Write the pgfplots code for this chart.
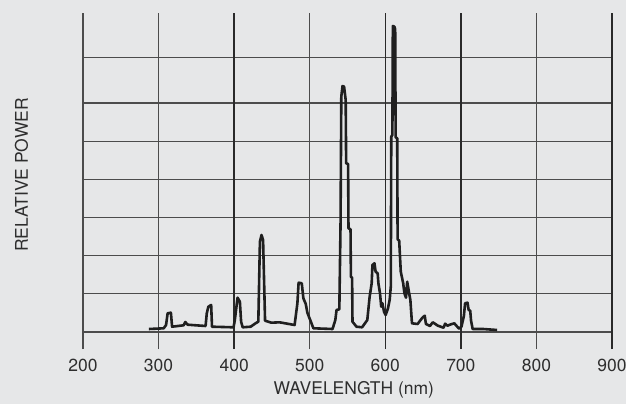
\documentclass[border=0pt]{standalone}
\usepackage{pgfplots}
\pgfplotsset{compat=1.18}
\usepackage{fontspec}
\setmainfont{TeX Gyre Heros}
\definecolor{bgc}{HTML}{E6E7E8}
\definecolor{gridc}{HTML}{4C4C4C}
\definecolor{gridd}{HTML}{2A2A2A}
\definecolor{txt}{HTML}{2E2E2E}

% spectrum: wavelength (nm), relative power
\pgfplotstableread{
nm     p
287.2  3.0
306.8  3.7
309.9  7.0
312.0  18.7
316.3  19.3
317.9  5.3
333.2  6.7
335.3  10.0
338.4  7.3
362.2  6.0
363.8  18.7
365.9  25.3
369.6  27.0
370.7  5.3
399.2  4.7
400.8  11.3
404.5  34.3
407.6  30.3
409.2  10.3
411.3  4.7
421.9  5.3
428.3  8.7
432.0  10.3
434.1  90.3
436.2  97.0
438.3  92.0
440.9  11.3
449.4  9.3
460.0  9.7
480.0  7.0
483.7  28.7
485.3  49.3
489.5  48.7
491.6  33.7
494.8  28.0
496.9  19.3
504.9  3.7
530.2  3.0
533.9  12.0
535.5  22.0
539.2  22.7
540.8  108.7
541.8  235.3
543.4  246.0
545.5  245.3
547.6  232.0
548.2  168.7
550.8  168.0
551.3  103.7
554.0  102.7
554.5  55.3
556.1  54.3
556.6  10.3
561.9  5.3
569.3  4.7
576.2  12.0
579.3  35.3
582.0  48.7
583.0  67.0
585.7  68.7
587.2  60.3
589.9  58.7
590.9  48.7
593.0  38.7
594.6  25.3
596.2  28.7
598.3  20.3
600.5  17.0
603.6  23.7
605.8  32.0
607.3  45.3
607.9  195.3
609.4  197.0
610.0  306.0
612.1  305.3
613.1  302.7
613.7  194.7
615.8  193.7
616.3  92.7
618.4  91.3
620.5  60.3
623.7  48.7
625.3  38.7
627.4  34.3
629.0  50.3
631.6  38.7
633.2  32.0
635.3  8.7
642.7  8.0
649.1  14.3
652.2  16.3
653.8  8.0
659.1  6.0
662.8  9.7
669.6  6.3
677.1  4.3
679.2  8.3
682.3  6.3
685.5  7.3
691.3  8.7
697.6  3.3
700.8  5.3
704.0  16.0
705.6  28.7
708.8  29.3
710.3  22.0
712.4  21.3
713.5  11.3
715.6  3.0
729.3  3.0
747.9  2.0
}\spectrum

\begin{document}
\begin{tikzpicture}
\fill[bgc] (0,0) rectangle (626bp,404bp);
\begin{axis}[
    at={(83bp,55bp)}, anchor=south west,
    scale only axis,
    width=529bp, height=336bp,
    xmin=200, xmax=900,
    ymin=-17, ymax=319,
    xtick={200,300,500,800},
    extra x ticks={400,600,700,900},
    extra x tick style={grid style={gridd, line width=1.5bp}},
    ytick={0,38.3,76.3,114.7,152.7,190.7,229,274.3,319.3},
    yticklabels={},
    grid=major,
    grid style={gridc, line width=1.5bp},
    axis line style={draw=none},
    major tick length=0pt,
    tick style={draw=none},
    /pgf/number format/assume math mode=true,
    /pgf/number format/1000 sep={},
    xticklabel style={font=\fontsize{17.5bp}{20bp}\selectfont, text=txt,
        anchor=center, yshift=-16bp},
    xlabel={WAVELENGTH (nm)},
    xlabel style={at={(rel axis cs:0.512,-0.135)}, anchor=base,
        font=\fontsize{17.5bp}{20bp}\selectfont, text=txt},
    ylabel={RELATIVE POWER},
    ylabel style={at={(rel axis cs:-0.104,0.518)}, anchor=base,
        font=\fontsize{17.5bp}{20bp}\selectfont, text=txt},
]
\addplot[black!88, line width=2.6bp, line join=round, no markers] table[x=nm, y=p] {\spectrum};
\end{axis}
\pgfresetboundingbox
\useasboundingbox (0,0) rectangle (626bp,404bp);
\end{tikzpicture}
\end{document}
